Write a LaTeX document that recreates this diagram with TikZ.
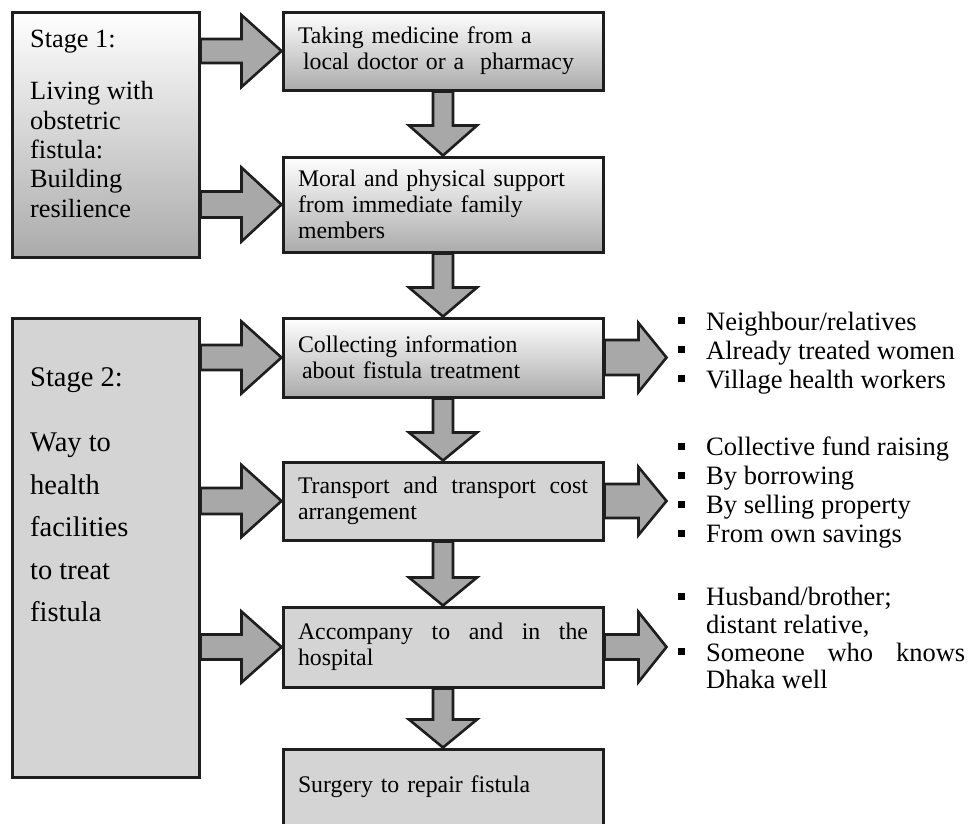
\documentclass[tikz,border=0pt]{standalone}
\usepackage{fontspec}
\setmainfont{Liberation Serif}
\usetikzlibrary{calc,positioning}

\definecolor{boxgray}{HTML}{D4D4D4}
\definecolor{arrowgray}{HTML}{A8A8A8}
\definecolor{shadegray}{HTML}{ABABAB}
\definecolor{inkgray}{HTML}{1E1E1E}

% small square bullet, text starts 28pt further on
\newcommand{\sqitem}{\makebox[28pt][l]{\rule[6pt]{7pt}{7pt}}}
% block arrows: #1 start, #2 tip, #3 half shaft, #4 half head, #5 head length
\newcommand{\blockh}[5]{%
  \draw[blockarrow] let \p1=(#1), \p2=(#2) in
    (\x1,\y2+#3pt) -- (\x2-#5pt,\y2+#3pt) -- (\x2-#5pt,\y2+#4pt) -- (\x2,\y2)
    -- (\x2-#5pt,\y2-#4pt) -- (\x2-#5pt,\y2-#3pt) -- (\x1,\y2-#3pt) -- cycle;}
\newcommand{\blockv}[5]{%
  \draw[blockarrow] let \p1=(#1), \p2=(#2) in
    (\x2+#3pt,\y1) -- (\x2+#3pt,\y2+#5pt) -- (\x2+#4pt,\y2+#5pt) -- (\x2,\y2)
    -- (\x2-#4pt,\y2+#5pt) -- (\x2-#3pt,\y2+#5pt) -- (\x2-#3pt,\y1) -- cycle;}

\begin{document}
\begin{tikzpicture}[x=1pt, y=-1pt,
  flowbox/.style={draw=inkgray, line width=3pt, fill=boxgray, text width=290pt,
    inner xsep=15pt, inner ysep=0pt, align=left,
    font=\fontsize{23.8}{25.8}\selectfont},
  shadedbox/.style={flowbox, top color=white, bottom color=shadegray},
  stagebox/.style={draw=inkgray, line width=3pt, minimum width=187pt, inner sep=0pt},
  stagetext/.style={align=left, inner sep=0pt, anchor=north west},
  listtext/.style={align=left, inner sep=0pt, anchor=north west,
    font=\fontsize{26.5}{29}\selectfont},
  blockarrow/.style={draw=inkgray, line width=2.6pt, fill=arrowgray, line join=miter}]
  \useasboundingbox (0,0) rectangle (969,823);
  \clip (0,0) rectangle (969,823);

  % Stage 1: living with the fistula
  \node[stagebox, minimum height=245pt, top color=white, bottom color=shadegray]
    (s1) at (105.5,134.5) {};
  \node[stagetext, font=\fontsize{26.3}{29.3}\selectfont] (s1txt) at (30,30.2)
    {Stage 1:\\[22.7pt]Living with\\obstetric\\fistula:\\Building\\resilience};

  % Stage 2: the way to treatment
  \node[stagebox, fill=boxgray, minimum height=459pt] (s2) at (105.5,547.5) {};
  \node[stagetext, font=\fontsize{28.5}{42.5}\selectfont] (s2txt) at (30,367.7)
    {Stage 2:\\[22.5pt]Way to\\health\\facilities\\to treat\\fistula};

  % middle column of steps
  \node[shadedbox, minimum height=78pt] (b1) at (443,51)
    {Taking medicine from a\\\hspace*{5pt}local doctor or a\ \ pharmacy};
  \node[shadedbox, minimum height=95pt] (b2) at (443,204.5)
    {Moral and physical support\\from immediate family\\members};
  \node[shadedbox, minimum height=79pt] (b3) at (443,357.5)
    {Collecting information\\\hspace*{4pt}about fistula treatment};
  \node[flowbox, minimum height=78pt] (b4) at (443,501)
    {\hbox to 290pt{Transport\hfill and\hfill transport\hfill cost}\\arrangement};
  \node[flowbox, minimum height=80pt] (b5) at (443,647)
    {\hbox to 290pt{Accompany\hfill to\hfill and\hfill in\hfill the}\\hospital};
  \node[flowbox, minimum height=76pt] (b6) at (443,787)
    {Surgery to repair fistula};

  % stage -> step arrows
  \blockh{s1.east |- b1.west}{b1.west}{12}{36}{40}
  \blockh{s1.east |- b2.west}{b2.west}{13}{37}{40}
  \blockh{s2.east |- b3.west}{b3.west}{12.5}{36}{40}
  \blockh{s2.east |- b4.west}{b4.west}{13}{36}{40}
  \blockh{s2.east |- b5.west}{b5.west}{12.5}{35.5}{40}

  % step -> step arrows
  \blockv{b1.south}{b2.north}{10}{34}{30}
  \blockv{b2.south}{b3.north}{10}{34}{29}
  \blockv{b3.south}{b4.north}{10}{34}{28}
  \blockv{b4.south}{b5.north}{10}{34}{28}
  \blockv{b5.south}{b6.north}{10}{34}{28}

  % step -> detail arrows
  \coordinate[right=62pt of b3.east] (t3);
  \coordinate[right=62pt of b4.east] (t4);
  \coordinate[right=62pt of b5.east] (t5);
  \blockh{b3.east}{t3}{17.5}{34.5}{28}
  \blockh{b4.east}{t4}{17}{34}{28}
  \blockh{b5.east}{t5}{12.5}{35}{28}

  % details
  \node[listtext] (l3) at (678,311.5)
    {\sqitem Neighbour/relatives\\\sqitem Already treated women\\\sqitem Village health workers};
  \node[listtext] (l4) at (678,437)
    {\sqitem Collective fund raising\\\sqitem By borrowing\\\sqitem By selling property\\\sqitem From own savings};
  \node[listtext, font=\fontsize{26.5}{27.7}\selectfont] (l5) at (678,587)
    {\sqitem Husband/brother;\\\hspace*{28pt}distant relative,\\\sqitem\makebox[259pt][s]{Someone who knows}\\\hspace*{28pt}Dhaka well};
\end{tikzpicture}
\end{document}
